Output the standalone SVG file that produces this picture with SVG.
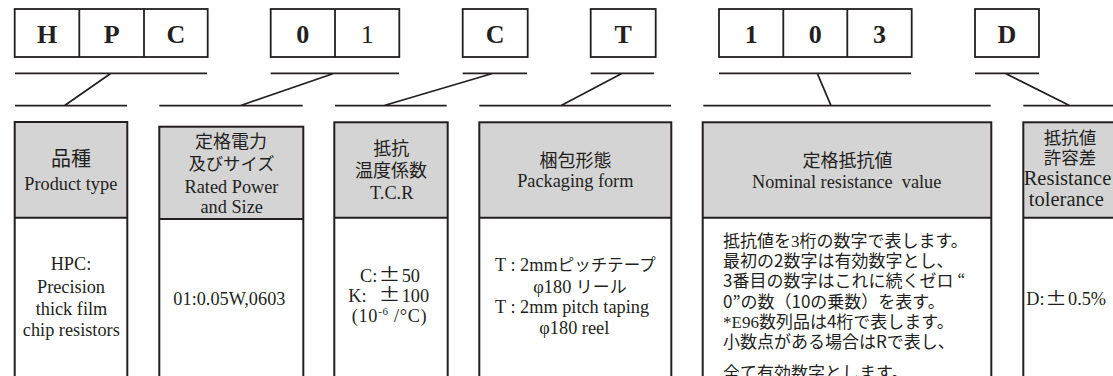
<svg xmlns="http://www.w3.org/2000/svg" width="1113" height="376" viewBox="0 0 1113 376">
<style>
.bg{fill:#fff}
.cb{fill:#fff;stroke:#231f20;stroke-width:1.8}
.cl{stroke:#231f20;stroke-width:1.8;fill:none}
.code{font-family:"Liberation Serif","Times New Roman",serif;font-weight:bold;font-size:26px;text-anchor:middle;fill:#231f20}
.reg{font-weight:normal}
.hd{fill:#d4d4d4}
.bx{fill:none;stroke:#231f20;stroke-width:2}
.ln{stroke:#231f20;stroke-width:1.7;fill:none}
.jp{font-family:"Noto Sans CJK JP","Noto Sans CJK SC",sans-serif;fill:#231f20}
.en{font-family:"Liberation Serif","Times New Roman",serif;font-size:18.3px;fill:#231f20}
.m{text-anchor:middle}
.h18{font-size:18px}
.b17{font-size:17px}
.pm{font-family:"Noto Sans CJK JP",sans-serif;font-size:18px;fill:#231f20}
</style>
<rect class="bg" x="0" y="0" width="1113" height="376"/>

<!-- Code boxes -->
<g id="code-HPC">
  <rect class="cb" x="14.7" y="9" width="193" height="48"/>
  <path class="cl" d="M79.3 9V57M144 9V57"/>
  <text class="code" x="47" y="43.3">H</text>
  <text class="code" x="111.7" y="43.3">P</text>
  <text class="code" x="175.8" y="43.3">C</text>
</g>
<g id="code-01">
  <rect class="cb" x="270.7" y="9" width="128.6" height="48"/>
  <path class="cl" d="M335 9V57"/>
  <text class="code" x="302.8" y="43.3">0</text>
  <text class="code reg" x="367.2" y="43.3">1</text>
</g>
<g id="code-C">
  <rect class="cb" x="462.7" y="9" width="65" height="48"/>
  <text class="code" x="495.2" y="43.3">C</text>
</g>
<g id="code-T">
  <rect class="cb" x="590.7" y="9" width="65" height="48"/>
  <text class="code" x="623.2" y="43.3">T</text>
</g>
<g id="code-103">
  <rect class="cb" x="719" y="9" width="192.7" height="48"/>
  <path class="cl" d="M783.3 9V57M847.3 9V57"/>
  <text class="code" x="751.2" y="43.3">1</text>
  <text class="code" x="815.3" y="43.3">0</text>
  <text class="code" x="879.5" y="43.3">3</text>
</g>
<g id="code-D">
  <rect class="cb" x="975" y="9" width="64" height="48"/>
  <text class="code" x="1007" y="43.3">D</text>
</g>

<!-- Connectors -->
<g id="connectors">
  <path class="ln" d="M15 73.3H207M111 73.3L64.3 105.7M15 105.7H127"/>
  <path class="ln" d="M270.7 73.3H399M334.3 73.3L240 105.7M159.3 105.7H302.7"/>
  <path class="ln" d="M462.7 73.3H527M493.3 73.3L383.3 105.7M335 105.7H446.7"/>
  <path class="ln" d="M590.7 73.3H654M622.3 73.3L560.7 105.7M479.3 105.7H671"/>
  <path class="ln" d="M719 73.3H911M817.3 73.3L831 105.7M703.3 105.7H990.7"/>
  <path class="ln" d="M975 73.3H1039M1005 73.3L1070 105.7M1023.3 105.7H1113"/>
</g>

<!-- Description boxes -->
<g id="box-product-type">
  <rect class="hd" x="14.7" y="122" width="112.6" height="95.7"/>
  <rect class="bx" x="14.7" y="122" width="112.6" height="280"/>
  <path class="bx" d="M14.7 217.7H127.3"/>
  <text class="jp m" x="71" y="165.7" style="font-size:20px">品種</text>
  <text class="en m" x="70.8" y="190">Product type</text>
  <text class="en m" x="71" y="270">HPC:</text>
  <text class="en m" x="71" y="292.7">Precision</text>
  <text class="en m" x="71.5" y="314.5">thick film</text>
  <text class="en m" x="71.3" y="335.5">chip resistors</text>
</g>

<g id="box-rated-power">
  <rect class="hd" x="159.3" y="126.7" width="144" height="92.3"/>
  <rect class="bx" x="159.3" y="126.7" width="144" height="280"/>
  <path class="bx" d="M159.3 219H303.3"/>
  <text class="jp m h18" x="231" y="147.5">定格電力</text>
  <text class="jp m" x="231.5" y="169.8" style="font-size:17.3px">及びサイズ</text>
  <text class="en m" x="231.5" y="193">Rated Power</text>
  <text class="en m" x="231.7" y="213">and Size</text>
  <text class="en m" x="229.4" y="305">01:0.05W,0603</text>
</g>

<g id="box-tcr">
  <rect class="hd" x="334.3" y="122.3" width="113.4" height="95.4"/>
  <rect class="bx" x="334.3" y="122.3" width="113.4" height="280"/>
  <path class="bx" d="M334.3 217.7H447.7"/>
  <text class="jp m h18" x="391.3" y="155.3">抵抗</text>
  <text class="jp m h18" x="391" y="177">温度係数</text>
  <text class="en m" x="391.7" y="199.3">T.C.R</text>
  <text class="en" x="360" y="281.5">C:</text>
  <text class="pm" x="378.5" y="281" textLength="22" lengthAdjust="spacingAndGlyphs">±</text>
  <text class="en" x="401.7" y="281.5">50</text>
  <text class="en" x="348.3" y="301.5">K:</text>
  <text class="pm" x="378.5" y="301" textLength="22" lengthAdjust="spacingAndGlyphs">±</text>
  <text class="en" x="401.7" y="301.5">100</text>
  <text class="en" x="351.7" y="321.5" textLength="75">(10<tspan dy="-7" style="font-size:11px">-6</tspan><tspan dy="7"> /°C)</tspan></text>
</g>

<g id="box-packaging">
  <rect class="hd" x="479.3" y="122.3" width="192" height="95.4"/>
  <rect class="bx" x="479.3" y="122.3" width="192" height="280"/>
  <path class="bx" d="M479.3 217.7H671.3"/>
  <text class="jp m h18" x="575.5" y="167">梱包形態</text>
  <text class="en m" x="575.3" y="186.7">Packaging form</text>
  <text class="en" x="495" y="271.3">T : 2mm<tspan class="jp" style="font-size:16.5px">ピッチテープ</tspan></text>
  <text class="en" x="533.3" y="292.5">φ180 <tspan class="jp" style="font-size:17px">リール</tspan></text>
  <text class="en" x="495" y="313">T : 2mm pitch taping</text>
  <text class="en" x="539.3" y="334">φ180 reel</text>
</g>

<g id="box-nominal-resistance">
  <rect class="hd" x="702.7" y="122.3" width="288.6" height="95.4"/>
  <rect class="bx" x="702.7" y="122.3" width="288.6" height="280"/>
  <path class="bx" d="M702.7 217.7H991.3"/>
  <text class="jp m h18" x="847.5" y="167">定格抵抗値</text>
  <text class="en m" x="846.7" y="188.3">Nominal resistance&#160; value</text>
  <text class="jp b17" x="723" y="247">抵抗値を<tspan class="en" style="font-size:17px">3</tspan>桁の数字で表します。</text>
  <text class="jp b17" x="723" y="267.2">最初の2数字は有効数字とし、</text>
  <text class="jp b17" x="723" y="287.4">3番目の数字はこれに続くゼロ “</text>
  <text class="jp b17" x="723" y="307.6">0”の数（10の乗数）を表す。</text>
  <text class="jp b17" x="723" y="327.8"><tspan class="en" style="font-size:17px">*E96</tspan>数列品は4桁で表します。</text>
  <text class="jp b17" x="723" y="348">小数点がある場合はRで表し、</text>
  <text class="jp b17" x="723" y="378.5">全て有効数字とします。</text>
</g>

<g id="box-tolerance">
  <rect class="hd" x="1023.3" y="122.3" width="120" height="95.4"/>
  <rect class="bx" x="1023.3" y="122.3" width="120" height="280"/>
  <path class="bx" d="M1023.3 217.7H1143"/>
  <text class="jp m" x="1070" y="143.8" style="font-size:17.5px">抵抗値</text>
  <text class="jp m" x="1070" y="163.8" style="font-size:17.5px">許容差</text>
  <text class="en m" x="1067.5" y="184.5" style="font-size:20.5px">Resistance</text>
  <text class="en m" x="1066.4" y="206" style="font-size:20.5px">tolerance</text>
  <text class="en" x="1026.3" y="305">D:</text>
  <text class="pm" x="1045" y="304.5" textLength="22" lengthAdjust="spacingAndGlyphs">±</text>
  <text class="en" x="1068" y="305">0.5%</text>
</g>
</svg>
